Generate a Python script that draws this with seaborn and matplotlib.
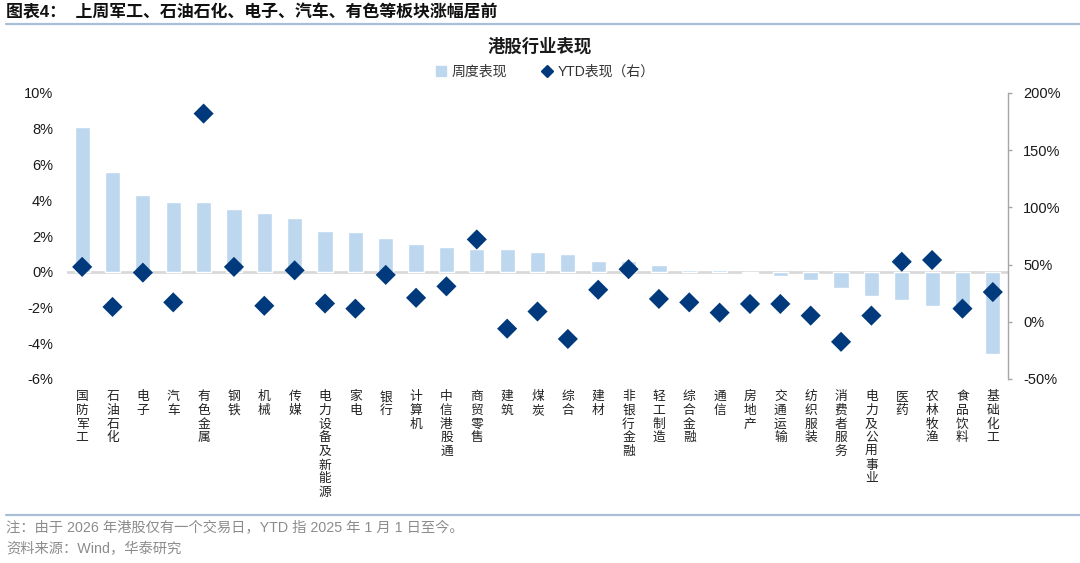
import matplotlib
matplotlib.use("Agg")
import matplotlib.pyplot as plt
import seaborn as sns
import pandas as pd
from matplotlib.ticker import FuncFormatter
from matplotlib.lines import Line2D

sns.set_theme(style="white")
plt.rcParams['font.family'] = ['Liberation Sans', 'Noto Sans CJK SC', 'DejaVu Sans']
plt.rcParams['axes.unicode_minus'] = False

categories = ["国防军工", "石油石化", "电子", "汽车", "有色金属", "钢铁", "机械", "传媒",
              "电力设备及新能源", "家电", "银行", "计算机", "中信港股通", "商贸零售", "建筑",
              "煤炭", "综合", "建材", "非银行金融", "轻工制造", "综合金融", "通信", "房地产",
              "交通运输", "纺织服装", "消费者服务", "电力及公用事业", "医药", "农林牧渔",
              "食品饮料", "基础化工"]
weekly = [8.1, 5.6, 4.3, 3.9, 3.9, 3.5, 3.3, 3.0, 2.3, 2.2, 1.9, 1.55, 1.4, 1.25, 1.25,
          1.1, 1.0, 0.6, 0.6, 0.4, 0.12, 0.12, -0.05, -0.22, -0.45, -0.93, -1.34, -1.6,
          -1.92, -2.1, -4.6]
ytd = [48, 13, 43, 17, 182, 48, 14, 45, 16, 11.5, 41, 21, 31, 72, -6, 9, -15, 28, 46, 20,
       17, 8, 15.6, 15.6, 5.4, -17.5, 5.4, 52.5, 54, 11.5, 26]
left_ticks = [-6, -4, -2, 0, 2, 4, 6, 8, 10]
right_ticks = [-50, 0, 50, 100, 150, 200]

df = pd.DataFrame({"行业": categories, "周度表现": weekly, "YTD": ytd})

BAR = "#BDD7EE"
DIA = "#003A7D"
LINE = "#A9BFD8"
GRAY = "#8C8C8C"

fig = plt.figure(figsize=(10.8, 5.63), dpi=100)
ax = fig.add_axes([67/1080, 1-379/563, (1008-67)/1080, (379-93)/563])

sns.barplot(data=df, x="行业", y="周度表现", color=BAR, width=0.5, saturation=1,
            ax=ax, zorder=2)
ax.axhline(0, color="#D9D9D9", lw=2, zorder=1)
ax.set_ylim(left_ticks[0], left_ticks[-1])
ax.set_yticks(left_ticks)
ax.yaxis.set_major_formatter(FuncFormatter(lambda v, p: f"{v:.0f}%"))
ax.set_xlim(-0.5, len(categories) - 0.5)
ax.set_xlabel("")
ax.set_ylabel("")
for s in ax.spines.values():
    s.set_visible(False)
ax.tick_params(axis="y", length=0, pad=10, labelsize=10.5, colors="#1a1a1a")
ax.set_xticks(range(len(categories)))
ax.set_xticklabels(["\n".join(c) for c in categories], fontsize=9.2, linespacing=1.07,
                   family=['Noto Sans CJK SC'], color="#222222")
ax.tick_params(axis="x", length=0, pad=8)

ax2 = ax.twinx()
sns.scatterplot(data=df, x="行业", y="YTD", marker="D", s=105, color=DIA,
                edgecolor="none", ax=ax2, zorder=3, legend=False)
ax2.set_ylim(right_ticks[0], right_ticks[-1])
ax2.set_yticks(right_ticks)
ax2.yaxis.set_major_formatter(FuncFormatter(lambda v, p: f"{v:.0f}%"))
ax2.set_ylabel("")
for k, s in ax2.spines.items():
    s.set_visible(k == "right")
ax2.spines["right"].set_color("#A6A6A6")
ax2.spines["right"].set_linewidth(1.0)
ax2.tick_params(axis="y", length=3, width=1, pad=8, labelsize=10.5, colors="#1a1a1a")
ax2.tick_params(axis="y", color="#A6A6A6")

ax.set_zorder(ax2.get_zorder() - 1)
ax.patch.set_visible(False)

# legend
h_bar = plt.Rectangle((0, 0), 1, 1, color=BAR)
h_dia = Line2D([], [], marker="D", color=DIA, ls="none", markersize=6)
leg = fig.legend([h_bar, h_dia], ["周度表现", "YTD表现（右）"], loc="center",
                 bbox_to_anchor=(0.505, 1-72/563), ncol=2, frameon=False,
                 handlelength=0.7, handleheight=0.7, handletextpad=0.4, columnspacing=2.5,
                 prop={"family": ['Liberation Sans', 'Noto Sans CJK SC'], "size": 10})
for t in leg.get_texts():
    t.set_color("#333333")

fig.text(0.5, 1-47/563, "港股行业表现", ha="center", va="center", fontsize=12.5,
         fontweight="bold", family=['Noto Sans CJK SC'], color="#1a1a1a")

fig.text(6/1080, 1-12/563, "图表4：  上周军工、石油石化、电子、汽车、有色等板块涨幅居前",
         ha="left", va="center", fontsize=12.2, fontweight="bold",
         family=['Liberation Sans', 'Noto Sans CJK SC'], color="#111111")
fig.add_artist(Line2D([6/1080, 1.0], [1-24/563, 1-24/563], color=LINE, lw=1.6))
fig.add_artist(Line2D([6/1080, 1.0], [1-515/563, 1-515/563], color=LINE, lw=1.6))

fig.text(6/1080, 1-528/563, "注：由于 2026 年港股仅有一个交易日，YTD 指 2025 年 1 月 1 日至今。",
         ha="left", va="center", fontsize=10.3, color=GRAY,
         family=['Liberation Sans', 'Noto Sans CJK SC'])
fig.text(6/1080, 1-549/563, "资料来源：Wind，华泰研究",
         ha="left", va="center", fontsize=10.3, color=GRAY,
         family=['Liberation Sans', 'Noto Sans CJK SC'])

fig.savefig("out.png", dpi=100, facecolor="white")
